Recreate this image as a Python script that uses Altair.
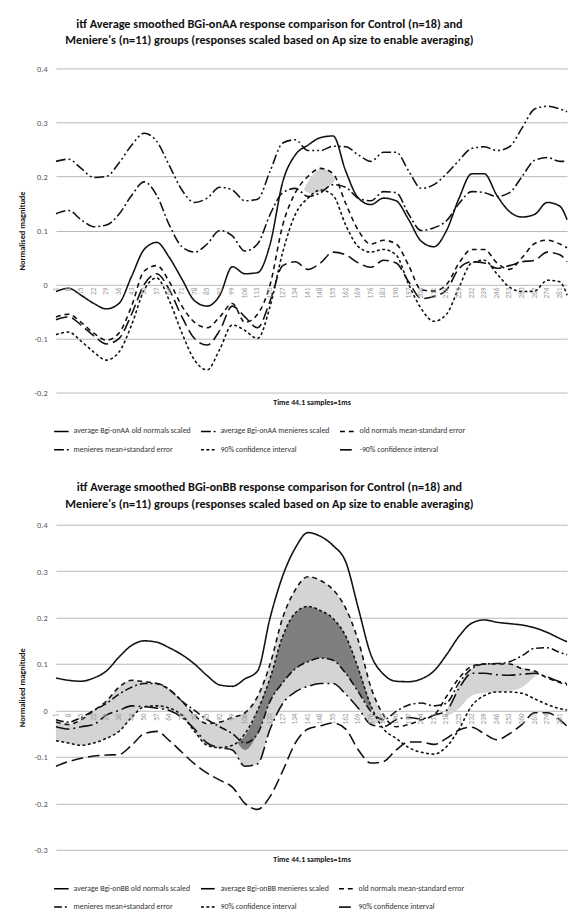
import altair as alt
import pandas as pd

FONT = "Carlito, Liberation Sans Narrow, Lato, sans-serif"

TICKS = [1, 8, 15, 22, 29, 36, 43, 50, 57, 64, 71, 78, 85, 92, 99, 106, 113, 120, 127, 134,
         141, 148, 155, 162, 169, 176, 183, 190, 197, 204, 211, 218, 225, 232, 239, 246, 253,
         260, 267, 274, 281]
TICK_LABELS = ["1", "8", "15", "22", "29", "36", "43", "50", "57", "64", "71", "78", "85", "92",
               "99", "106", "113", "120", "127", "134", "141", "148", "155", "162", "169", "176",
               "183", "190", "197", "204", "211", "218", "225", "232", "239", "246", "253", "260",
               "267", "274", "281"]
SAMPLES = TICKS + [285]

TOP_TITLE = ["itf Average smoothed BGi-onAA response comparison for Control (n=18) and",
             "Meniere's (n=11) groups (responses scaled based on Ap size to enable averaging)"]
BOT_TITLE = ["itf Average smoothed BGi-onBB response comparison for Control (n=18) and",
             "Meniere's (n=11) groups (responses scaled based on Ap size to enable averaging)"]

TOP_NAMES = ["average Bgi-onAA old normals scaled", "average Bgi-onAA menieres scaled",
             "old normals mean-standard error", "menieres mean+standard error",
             "90% confidence interval", "-90% confidence interval"]
BOT_NAMES = ["average Bgi-onBB old normals scaled", "average Bgi-onBB menieres scaled",
             "old normals mean-standard error", "menieres mean+standard error",
             "90% confidence interval", "90% confidence interval "]

# ---- top chart (BGi-onAA) series, values at SAMPLES ----
TOP_OLD_AVG = [-0.013, -0.007, -0.02, -0.035, -0.045, -0.035, 0.015, 0.065, 0.078, 0.05, 0.01,
               -0.03, -0.04, -0.02, 0.033, 0.02, 0.022, 0.075, 0.19, 0.24, 0.258, 0.272, 0.275,
               0.21, 0.16, 0.148, 0.16, 0.155, 0.12, 0.08, 0.07, 0.1, 0.16, 0.205, 0.205, 0.165,
               0.135, 0.125, 0.13, 0.152, 0.145, 0.12]
TOP_MEN_AVG = [0.131, 0.137, 0.12, 0.107, 0.11, 0.13, 0.165, 0.19, 0.165, 0.11, 0.07, 0.06, 0.075,
               0.1, 0.09, 0.062, 0.075, 0.13, 0.17, 0.178, 0.163, 0.17, 0.185, 0.18, 0.16, 0.155,
               0.172, 0.17, 0.13, 0.1, 0.105, 0.118, 0.15, 0.172, 0.17, 0.163, 0.17, 0.2, 0.23,
               0.235, 0.228, 0.228]
TOP_OLD_MSE = [-0.06, -0.055, -0.07, -0.09, -0.103, -0.09, -0.04, 0.025, 0.035, 0.005, -0.04,
               -0.07, -0.08, -0.06, -0.035, -0.07, -0.055, 0.0, 0.11, 0.17, 0.2, 0.215, 0.205,
               0.15, 0.1, 0.075, 0.082, 0.075, 0.035, -0.01, -0.012, 0.0, 0.04, 0.065, 0.065,
               0.04, 0.028, 0.05, 0.076, 0.082, 0.075, 0.068]
TOP_MEN_PSE = [0.228, 0.232, 0.215, 0.198, 0.2, 0.225, 0.258, 0.28, 0.265, 0.22, 0.175, 0.152,
               0.16, 0.18, 0.175, 0.155, 0.158, 0.21, 0.262, 0.268, 0.248, 0.248, 0.256, 0.255,
               0.24, 0.228, 0.245, 0.245, 0.21, 0.178, 0.185, 0.205, 0.23, 0.252, 0.255, 0.248,
               0.255, 0.29, 0.325, 0.33, 0.325, 0.32]
TOP_CI_UP = [-0.093, -0.088, -0.105, -0.125, -0.14, -0.125, -0.075, -0.01, 0.012, -0.03, -0.09,
             -0.14, -0.158, -0.12, -0.075, -0.085, -0.1, -0.04, 0.06, 0.13, 0.16, 0.175, 0.165,
             0.11, 0.07, 0.06, 0.065, 0.055, 0.0, -0.045, -0.068, -0.055, -0.005, 0.04, 0.045,
             0.02, -0.005, -0.013, -0.012, 0.008, 0.005, -0.02]
TOP_CI_LO = [-0.065, -0.06, -0.075, -0.095, -0.11, -0.1, -0.055, 0.0, 0.02, -0.01, -0.06, -0.1,
             -0.112, -0.085, -0.04, -0.06, -0.08, -0.03, 0.035, 0.042, 0.028, 0.04, 0.06, 0.055,
             0.04, 0.032, 0.045, 0.04, 0.005, -0.026, -0.022, -0.01, 0.03, 0.042, 0.04, 0.03,
             0.035, 0.042, 0.045, 0.06, 0.055, 0.042]
TOP_SERIES = [TOP_OLD_AVG, TOP_MEN_AVG, TOP_OLD_MSE, TOP_MEN_PSE, TOP_CI_UP, TOP_CI_LO]

TOP_BAND_X = [139, 143, 148, 152, 156]
TOP_BAND_LO = [0.175, 0.168, 0.172, 0.18, 0.192]
TOP_BAND_HI = [0.178, 0.2, 0.214, 0.212, 0.196]

# ---- bottom chart (BGi-onBB) series ----
BOT_OLD_AVG = [0.07, 0.065, 0.063, 0.07, 0.085, 0.115, 0.14, 0.15, 0.147, 0.135, 0.12, 0.1, 0.075,
               0.055, 0.052, 0.068, 0.085, 0.2, 0.29, 0.35, 0.383, 0.375, 0.355, 0.32, 0.22, 0.12,
               0.078, 0.063, 0.062, 0.068, 0.085, 0.12, 0.16, 0.188, 0.195, 0.19, 0.187, 0.184,
               0.178, 0.168, 0.155, 0.148]
BOT_MEN_AVG = [-0.035, -0.04, -0.035, -0.03, -0.01, 0.0, 0.01, 0.008, 0.005, 0.0, -0.015, -0.04,
               -0.07, -0.08, -0.085, -0.12, -0.115, -0.04, 0.015, 0.04, 0.052, 0.058, 0.058,
               0.035, 0.005, -0.03, -0.035, -0.02, -0.015, -0.018, -0.01, 0.0, 0.048, 0.08, 0.08,
               0.077, 0.076, 0.078, 0.08, 0.072, 0.062, 0.058]
BOT_OLD_MSE = [-0.025, -0.03, -0.02, 0.0, 0.02, 0.05, 0.065, 0.062, 0.058, 0.045, 0.02, -0.01,
               -0.028, -0.025, -0.015, -0.005, 0.03, 0.1, 0.2, 0.26, 0.288, 0.28, 0.26, 0.22,
               0.15, 0.05, -0.01, -0.035, -0.03, -0.02, -0.01, 0.03, 0.07, 0.095, 0.1, 0.1, 0.1,
               0.09, 0.085, 0.07, 0.06, 0.055]
BOT_MEN_PSE = [-0.02, -0.025, -0.015, 0.0, 0.015, 0.035, 0.05, 0.058, 0.058, 0.045, 0.02, 0.0,
               -0.02, -0.035, -0.05, -0.07, -0.05, 0.02, 0.06, 0.09, 0.105, 0.113, 0.108, 0.08,
               0.04, -0.002, -0.02, -0.002, 0.012, 0.016, 0.01, 0.016, 0.06, 0.09, 0.1, 0.101,
               0.105, 0.118, 0.134, 0.135, 0.125, 0.12]
BOT_CI_UP = [-0.065, -0.07, -0.075, -0.07, -0.06, -0.045, -0.015, 0.008, 0.01, 0.005, -0.01,
             -0.045, -0.075, -0.08, -0.075, -0.05, 0.0, 0.07, 0.16, 0.21, 0.224, 0.215, 0.198,
             0.16, 0.09, 0.01, -0.04, -0.06, -0.08, -0.09, -0.094, -0.078, -0.04, 0.01, 0.032,
             0.04, 0.04, 0.037, 0.025, 0.013, 0.004, 0.001]
BOT_CI_LO = [-0.12, -0.11, -0.103, -0.098, -0.096, -0.095, -0.075, -0.05, -0.045, -0.065, -0.09,
             -0.115, -0.135, -0.15, -0.165, -0.2, -0.213, -0.185, -0.13, -0.07, -0.04, -0.033,
             -0.027, -0.04, -0.085, -0.113, -0.11, -0.085, -0.068, -0.068, -0.073, -0.06, -0.042,
             -0.036, -0.05, -0.063, -0.05, -0.03, -0.005, -0.005, -0.02, -0.034]
BOT_SERIES = [BOT_OLD_AVG, BOT_MEN_AVG, BOT_OLD_MSE, BOT_MEN_PSE, BOT_CI_UP, BOT_CI_LO]

BOT_LIGHT1_X = [1, 8, 15, 22, 29, 36, 43, 50, 57, 64, 71, 78, 85, 92, 99, 106, 113, 120, 127, 134,
                141, 148, 155, 162, 169, 176, 183]
BOT_LIGHT1_HI = [-0.025, -0.03, -0.02, 0.0, 0.02, 0.05, 0.065, 0.062, 0.058, 0.045, 0.02, -0.01,
                 -0.028, -0.025, -0.015, -0.005, 0.03, 0.1, 0.2, 0.26, 0.288, 0.28, 0.26, 0.22,
                 0.15, 0.05, -0.02]
BOT_LIGHT1_LO = [-0.065, -0.07, -0.075, -0.07, -0.06, -0.045, -0.015, 0.008, 0.005, 0.0, -0.015,
                 -0.045, -0.075, -0.08, -0.085, -0.12, -0.115, -0.04, 0.015, 0.04, 0.052, 0.058,
                 0.058, 0.035, 0.005, -0.03, -0.025]
BOT_LIGHT2_X = [217, 225, 232, 239, 246, 253, 260, 266, 269]
BOT_LIGHT2_HI = [-0.01, 0.055, 0.09, 0.1, 0.101, 0.1, 0.092, 0.085, 0.08]
BOT_LIGHT2_LO = [-0.015, 0.005, 0.032, 0.038, 0.04, 0.042, 0.05, 0.07, 0.08]
BOT_DARK_X = [102, 106, 113, 120, 127, 134, 141, 148, 155, 162, 169, 176]
BOT_DARK_HI = [-0.068, -0.055, 0.0, 0.07, 0.16, 0.21, 0.224, 0.215, 0.198, 0.16, 0.09, 0.01]
BOT_DARK_LO = [-0.07, -0.085, -0.05, 0.02, 0.06, 0.09, 0.105, 0.113, 0.108, 0.08, 0.04, -0.002]

TOP_DASHES = [[1, 0], [10, 3, 2, 3], [5, 4], [10, 3, 2, 3, 2, 3], [3, 2.5], [12, 5]]
BOT_DASHES = [[1, 0], [14, 4, 2, 4], [5, 4], [8, 3, 2, 3], [3, 2.5], [12, 5]]

LIGHT = "#d4d4d4"
DARK = "#7f7f7f"

Y_EXPR = ("datum.value == 0 ? '0' : (datum.value < 0 ? '-' + format(-datum.value, '.1f') "
          ": format(datum.value, '.1f'))")


def panel(title, names, series, dashes, bands, ymin, height, yvals, title_offset):
    rows = []
    for name, vals in zip(names, series):
        for s, v in zip(SAMPLES, vals):
            rows.append({"sample": s, "value": v, "series": name})
    df = pd.DataFrame(rows)

    xs = alt.Scale(domain=[1, 285], nice=False, zero=False)
    ys = alt.Scale(domain=[ymin, 0.4], nice=False, zero=False)
    xaxis = alt.Axis(title="Time 44.1 samples=1ms", labels=False, ticks=False,
                     domain=False, grid=False, titleFontSize=8, titleFontWeight="bold",
                     titleColor="#111", titlePadding=6, titleFont=FONT)
    yaxis = alt.Axis(values=yvals, title="Normalised magnitude", grid=True,
                     gridColor="#b8b8b8", gridWidth=1, domain=False, ticks=False,
                     labelFontSize=8.5, labelColor="#555", labelPadding=9,
                     labelExpr=Y_EXPR, labelFont=FONT,
                     titleFontSize=8.5, titleFontWeight="bold", titleColor="#111",
                     titlePadding=8, titleFont=FONT)

    layers = []
    for color, segs in bands:
        brow = []
        for k, (bx, blo, bhi) in enumerate(segs):
            for s, lo, hi in zip(bx, blo, bhi):
                brow.append({"sample": s, "lo": lo, "hi": hi, "seg": k})
        layers.append(
            alt.Chart(pd.DataFrame(brow)).mark_area(color=color, interpolate="monotone", opacity=1)
            .encode(x=alt.X("sample:Q", scale=xs, axis=xaxis),
                    y=alt.Y("lo:Q", scale=ys, axis=yaxis),
                    y2="hi:Q",
                    detail="seg:N")
        )

    lines = alt.Chart(df).mark_line(color="#111111", strokeWidth=1.6, interpolate="monotone").encode(
        x=alt.X("sample:Q", scale=xs, axis=xaxis),
        y=alt.Y("value:Q", scale=ys, axis=yaxis),
        strokeDash=alt.StrokeDash(
            "series:N",
            scale=alt.Scale(domain=names, range=dashes),
            legend=alt.Legend(title=None, orient="none", legendX=-3, legendY=height + 31,
                              columns=3, direction="horizontal", symbolType="stroke",
                              symbolStrokeColor="black", symbolStrokeWidth=1.6, symbolSize=220,
                              labelFontSize=8, labelColor="#333", labelFont=FONT,
                              columnPadding=6, rowPadding=6, labelLimit=300,
                              symbolOffset=0)),
    )
    layers.append(lines)

    tdf = pd.DataFrame({"sample": TICKS, "label": TICK_LABELS, "y0": [0] * len(TICKS)})
    text = alt.Chart(tdf).mark_text(angle=270, align="right", baseline="middle", fontSize=7.5,
                                    color="#999999", dx=-3, font=FONT).encode(
        x=alt.X("sample:Q", scale=xs, axis=xaxis),
        y=alt.Y("y0:Q", scale=ys, axis=yaxis),
        text="label:N",
    )
    layers.append(text)

    return alt.layer(*layers).properties(
        width=522, height=height,
        title=alt.TitleParams(text=title, font=FONT, fontSize=12.5, fontWeight="bold",
                              color="#111", anchor="middle", dx=-43, lineHeight=17,
                              offset=title_offset),
    )


top = panel(TOP_TITLE, TOP_NAMES, TOP_SERIES, TOP_DASHES,
            [(LIGHT, [(TOP_BAND_X, TOP_BAND_LO, TOP_BAND_HI)])],
            -0.2, 331, [-0.2, -0.1, 0, 0.1, 0.2, 0.3, 0.4], 18)
bottom = panel(BOT_TITLE, BOT_NAMES, BOT_SERIES, BOT_DASHES,
               [(LIGHT, [(BOT_LIGHT1_X, BOT_LIGHT1_LO, BOT_LIGHT1_HI),
                         (BOT_LIGHT2_X, BOT_LIGHT2_LO, BOT_LIGHT2_HI)]),
                (DARK, [(BOT_DARK_X, BOT_DARK_LO, BOT_DARK_HI)])],
               -0.3, 332, [-0.3, -0.2, -0.1, 0, 0.1, 0.2, 0.3, 0.4], 11)

chart = (
    alt.vconcat(top, bottom, spacing=27)
    .resolve_scale(x="independent", y="independent", strokeDash="independent")
    .resolve_legend(strokeDash="independent")
    .properties(padding={"left": 9, "right": 0, "top": 0, "bottom": 2})
    .configure_view(stroke=None)
)

chart.save("out.html", embed_options={"renderer": "svg", "actions": False})
